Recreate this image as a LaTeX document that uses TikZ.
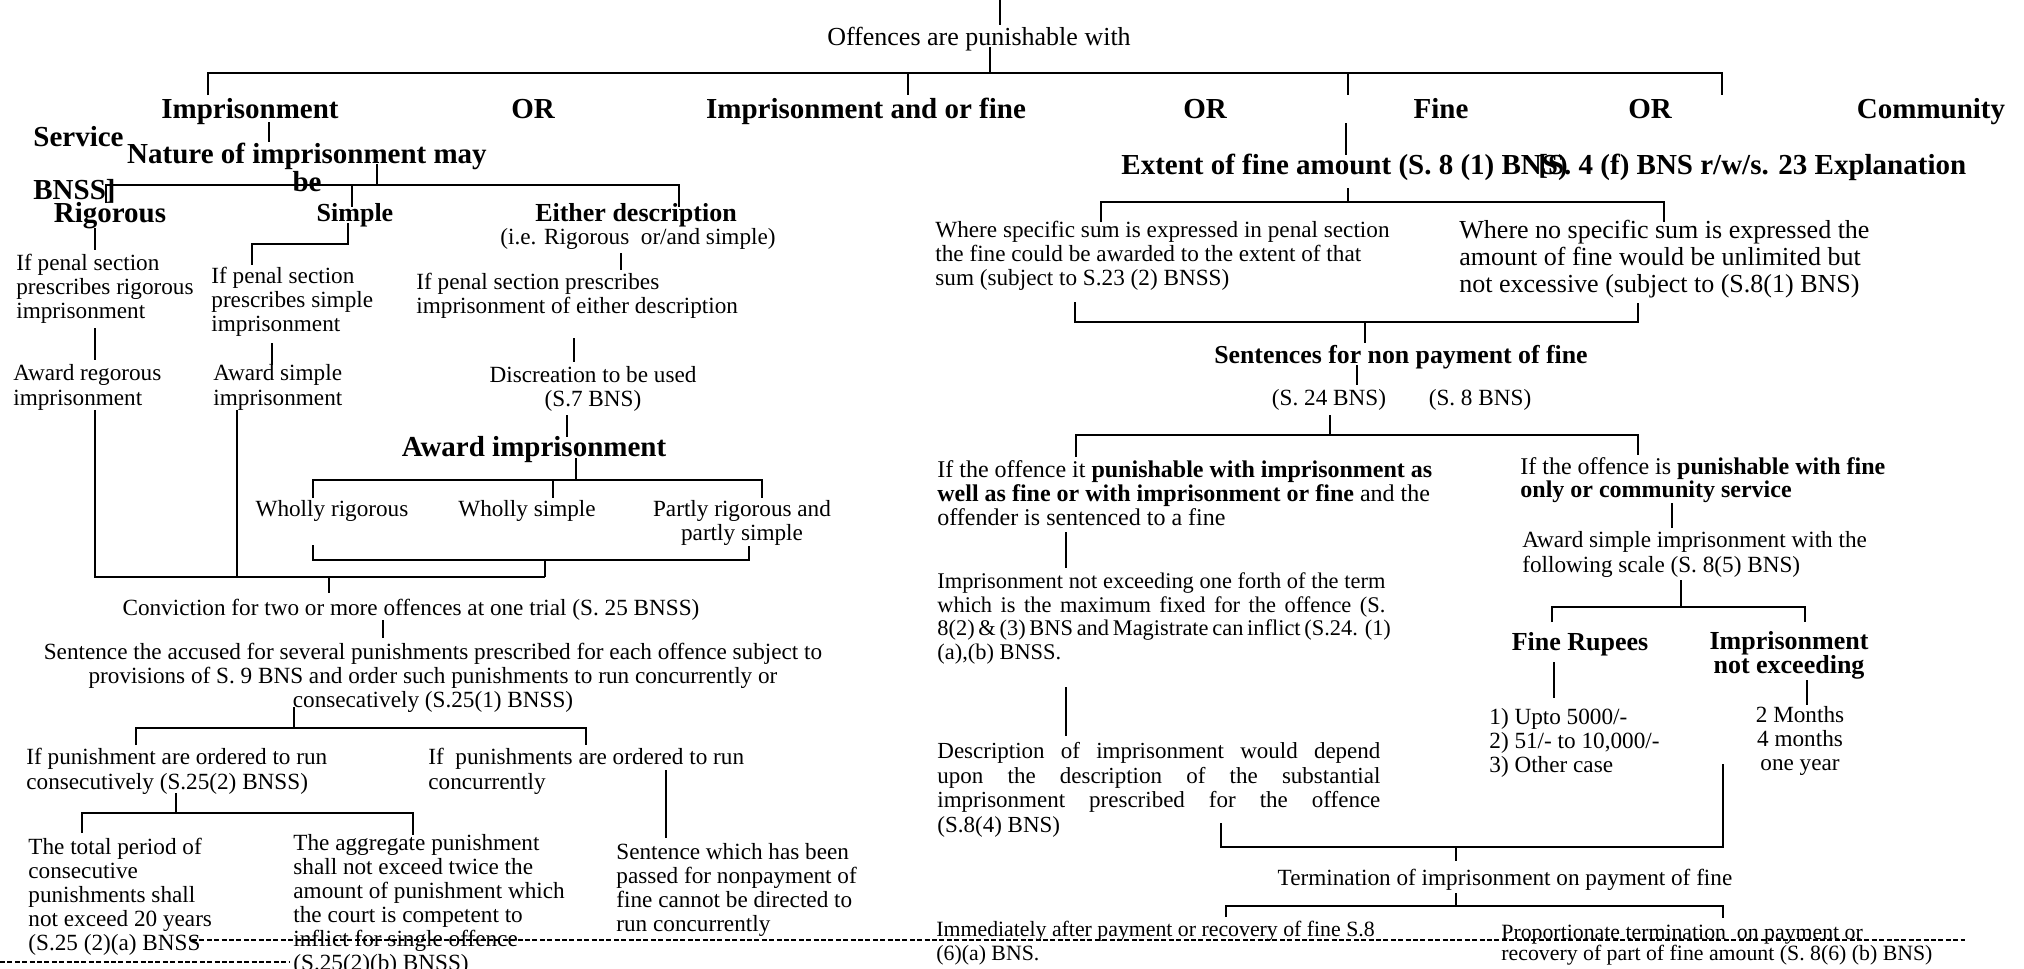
\documentclass[tikz,border=0pt]{standalone}
\usepackage{fontspec}
\setmainfont{Liberation Serif}

\begin{document}
\begin{tikzpicture}[
    x=0.5pt, y=-0.5pt,
    % Styles (multi-line nodes sit on the baseline of their last line)
    body/.style={font=\fontsize{11.6}{12}\selectfont, inner sep=0pt, align=left, anchor=base west},
    cbody/.style={font=\fontsize{11.6}{12}\selectfont, inner sep=0pt, align=center, anchor=base},
    head/.style={font=\fontsize{14.5}{14}\selectfont\bfseries, inner sep=0pt, align=center, anchor=base},
    subhead/.style={font=\fontsize{13}{12}\selectfont\bfseries, inner sep=0pt, align=center, anchor=base},
    link/.style={line width=1.3pt},
    pagecut/.style={line width=0.6pt, dash pattern=on 2.5pt off 1.2pt},
]
\useasboundingbox (0,0) rectangle (2024,969);

%--- Top ---%
\node[font=\fontsize{13}{14}\selectfont, inner sep=0pt, anchor=base] (off) at (979,45) {Offences are punishable with};

%--- First row ---%
\node[head] (imp)     at (250,118)  {Imprisonment};
\node[head] (or1)     at (533,118)  {OR};
\node[head] (impfine) at (866,118)  {Imprisonment and or fine};
\node[head] (or2)     at (1205,118) {OR};
\node[head] (fine)    at (1441,118) {Fine};
\node[head] (or3)     at (1650,118) {OR};
\node[head] (comm)    at (1931,118) {Community};
\node[head, anchor=base west] (serv) at (33,146) {Service};
\node[head, anchor=base west] (bnss) at (33,199) {BNSS]};

%--- Imprisonment branch ---%
\node[head] (nat) at (307,191) {Nature of imprisonment may\\be};
\node[head] (rig) at (110,222) {Rigorous};
\node[subhead] (simp) at (355,221) {Simple};
\node[subhead] (either) at (636,221) {Either description};
\node[cbody] (ie) at (638,244) {(i.e. Rigorous\ \ or/and simple)};

\node[body] (ifrig)    at (16,318)  {If penal section\\prescribes rigorous\\imprisonment};
\node[body] (ifsimp)   at (211,331) {If penal section\\prescribes simple\\imprisonment};
\node[body] (ifeither) at (416,313) {If penal section prescribes\\imprisonment of either description};

\node[body, font=\fontsize{11.6}{12.5}\selectfont] (awrig)  at (13,405)  {Award regorous\\imprisonment};
\node[body, font=\fontsize{11.6}{12.5}\selectfont] (awsimp) at (213,405) {Award simple\\imprisonment};
\node[cbody] (disc) at (593,406) {Discreation to be used\\(S.7 BNS)};

\node[head] (awimp) at (534,456) {Award imprisonment};
\node[cbody] (wrig)   at (332,516) {Wholly rigorous};
\node[cbody] (wsimp)  at (527,516) {Wholly simple};
\node[cbody] (partly) at (742,540) {Partly rigorous and\\partly simple};

\node[cbody] (conv) at (411,615) {Conviction for two or more offences at one trial (S. 25 BNSS)};
\node[cbody] (sent) at (433,707) {Sentence the accused for several punishments prescribed for each offence subject to\\provisions of S. 9 BNS and order such punishments to run concurrently or\\consecatively (S.25(1) BNSS)};

\node[body, font=\fontsize{11.6}{12.5}\selectfont] (ifcons) at (26,789)  {If punishment are ordered to run\\consecutively (S.25(2) BNSS)};
\node[body, font=\fontsize{11.6}{12.5}\selectfont] (ifconc) at (428,789) {If\ \ punishments are ordered to run\\concurrently};

\node[body] (total)    at (28,950)  {The total period of\\consecutive\\punishments shall\\not exceed 20 years\\(S.25 (2)(a) BNSS};
\node[body] (aggr)     at (293,970) {The aggregate punishment\\shall not exceed twice the\\amount of punishment which\\the court is competent to\\inflict for single offence\\(S.25(2)(b) BNSS)};
\node[body] (sentconc) at (616,931) {Sentence which has been\\passed for nonpayment of\\fine cannot be directed to\\run concurrently};

%--- Fine branch ---%
\node[head, anchor=base west] (extent) at (1121,174) {Extent of fine amount (S. 8 (1) BNS)};
\node[head, anchor=base west] (expl)   at (1538,174) {[S. 4 (f) BNS r/w/s. 23 Explanation};

\node[body] (wsum) at (935,285) {Where specific sum is expressed in penal section\\the fine could be awarded to the extent of that\\sum (subject to S.23 (2) BNSS)};
\node[body, font=\fontsize{13}{13.5}\selectfont] (wnosum) at (1459,292) {Where no specific sum is expressed the\\amount of fine would be unlimited but\\not excessive (subject to (S.8(1) BNS)};

\node[font=\fontsize{12.9}{12}\selectfont\bfseries, inner sep=0pt, anchor=base] (snp) at (1401,363) {Sentences for non payment of fine};
\node[cbody] (s24) at (1329,405) {(S. 24 BNS)};
\node[cbody] (s8)  at (1480,405) {(S. 8 BNS)};

\node[body, font=\fontsize{12}{12}\selectfont] (ifimp) at (937,525) {If the offence it \textbf{punishable with imprisonment as}\\\textbf{well as fine or with imprisonment or fine} and the\\offender is sentenced to a fine};
\node[body, font=\fontsize{12}{11.5}\selectfont] (iffine) at (1520,497) {If the offence is \textbf{punishable with fine}\\\textbf{only or community service}};
\node[body, font=\fontsize{11.6}{12.5}\selectfont] (awsc) at (1522,572) {Award simple imprisonment with the\\following scale (S. 8(5) BNS)};

\node[body, font=\fontsize{11.2}{11.75}\selectfont] (notex) at (937,659) {\makebox[224pt][s]{Imprisonment not exceeding one forth of the term}\\\makebox[224pt][s]{which is the maximum fixed for the offence (S.}\\\makebox[224pt][s]{8(2) \& (3) BNS and Magistrate can inflict (S.24. (1)}\\(a),(b) BNSS.};

\node[subhead] (fr)     at (1580,650) {Fine Rupees};
\node[subhead] (impnot) at (1789,673) {Imprisonment\\not exceeding};
\node[body]  (scale)  at (1489,772) {1) Upto 5000/-\\2) 51/- to 10,000/-\\3) Other case};
\node[cbody] (months) at (1800,770) {2 Months\\4 months\\one year};

\node[body, font=\fontsize{11.5}{12.25}\selectfont] (desc) at (937,832) {\makebox[221.5pt][s]{Description of imprisonment would depend}\\\makebox[221.5pt][s]{upon the description of the substantial}\\\makebox[221.5pt][s]{imprisonment prescribed for the offence}\\(S.8(4) BNS)};

\node[cbody] (term) at (1505,885) {Termination of imprisonment on payment of fine};
\node[body, font=\fontsize{10.9}{12}\selectfont]   (immed) at (936,960)  {Immediately after payment or recovery of fine S.8\\(6)(a) BNS.};
\node[body, font=\fontsize{10.9}{10.5}\selectfont] (prop)  at (1501,960) {Proportionate termination\ \ on payment or\\recovery of part of fine amount (S. 8(6) (b) BNS)};

%--- Connector points ---%
\coordinate (tA) at (1000,0);   \coordinate (tB) at (1000,25);
\coordinate (tC) at (990,47);   \coordinate (tD) at (990,73);
\coordinate (mL) at (208,95);   \coordinate (mR) at (1722,73);  \coordinate (mRb) at (1722,95);
\coordinate (m2) at (908,73);   \coordinate (m2b) at (908,95);
\coordinate (m3) at (1348,73);  \coordinate (m3b) at (1348,95);

\coordinate (i1) at (269,122);  \coordinate (i2) at (269,142);
\coordinate (n1) at (377,164);  \coordinate (n2) at (377,185);
\coordinate (nL) at (106,203);  \coordinate (nR) at (679,185);  \coordinate (nRb) at (679,207);
\coordinate (nM) at (352,185);  \coordinate (nMb) at (352,207);
\coordinate (r1) at (95,228);   \coordinate (r2) at (95,250);
\coordinate (s1) at (348,223);  \coordinate (s2) at (252,244);  \coordinate (s3) at (252,265);
\coordinate (e1) at (621,253);  \coordinate (e2) at (621,270);
\coordinate (r3) at (95,328);   \coordinate (r4) at (95,360);
\coordinate (s4) at (272,343);  \coordinate (s5) at (272,365);
\coordinate (e3) at (574,338);  \coordinate (e4) at (574,362);
\coordinate (d1) at (567,415);  \coordinate (d2) at (567,437);
\coordinate (a1) at (576,458);  \coordinate (a2) at (576,480);
\coordinate (aL) at (313,498);  \coordinate (aR) at (762,480);  \coordinate (aRb) at (762,498);
\coordinate (aM) at (553,480);  \coordinate (aMb) at (553,498);
\coordinate (wL) at (313,545);  \coordinate (wR) at (749,560);  \coordinate (wRb) at (749,546);
\coordinate (w1) at (545,560);  \coordinate (w2) at (545,577);
\coordinate (g1) at (95,410);   \coordinate (g2) at (237,410);  \coordinate (g3) at (237,577);
\coordinate (c1) at (329,577);  \coordinate (c2) at (329,593);
\coordinate (c3) at (383,620);  \coordinate (c4) at (383,638);
\coordinate (k1) at (294,707);  \coordinate (k2) at (294,728);
\coordinate (kL) at (136,745);  \coordinate (kR) at (586,728);  \coordinate (kRb) at (586,745);
\coordinate (q1) at (176,793);  \coordinate (q2) at (176,813);
\coordinate (qL) at (82,833);   \coordinate (qR) at (413,813);  \coordinate (qRb) at (413,835);
\coordinate (p1) at (666,770);  \coordinate (p2) at (666,838);

\coordinate (f1) at (1346,123); \coordinate (f2) at (1346,155);
\coordinate (x1) at (1348,188); \coordinate (x2) at (1348,202);
\coordinate (xL) at (1101,222); \coordinate (xR) at (1664,202); \coordinate (xRb) at (1664,222);
\coordinate (yL) at (1075,302); \coordinate (yR) at (1638,322); \coordinate (yRb) at (1638,303);
\coordinate (y1) at (1365,322); \coordinate (y2) at (1365,343);
\coordinate (z1) at (1357,365); \coordinate (z2) at (1357,385);
\coordinate (z3) at (1330,415); \coordinate (z4) at (1330,435);
\coordinate (zL) at (1076,457); \coordinate (zR) at (1638,435); \coordinate (zRb) at (1638,455);
\coordinate (v1) at (1066,532); \coordinate (v2) at (1066,568);
\coordinate (v3) at (1672,503); \coordinate (v4) at (1672,528);
\coordinate (v5) at (1681,580); \coordinate (v6) at (1681,607);
\coordinate (uL) at (1552,622); \coordinate (uR) at (1805,607); \coordinate (uRb) at (1805,622);
\coordinate (v7) at (1554,662); \coordinate (v8) at (1554,698);
\coordinate (v9) at (1807,680); \coordinate (v10) at (1807,705);
\coordinate (v11) at (1066,687); \coordinate (v12) at (1066,736);
\coordinate (hL) at (1221,823); \coordinate (hR) at (1723,847); \coordinate (hRt) at (1723,764);
\coordinate (h1) at (1456,847); \coordinate (h2) at (1456,861);
\coordinate (h3) at (1456,893); \coordinate (h4) at (1456,906);
\coordinate (jL) at (1226,917); \coordinate (jR) at (1723,906); \coordinate (jRb) at (1723,918);

\coordinate (dA) at (192,940);  \coordinate (dB) at (1965,940);
\coordinate (dC) at (0,962);    \coordinate (dD) at (290,962);

%--- Connectors ---%
\draw[link] (tA) -- (tB);
\draw[link] (tC) -- (tD);
\draw[link] (mL) |- (mR) -- (mRb);
\draw[link] (m2) -- (m2b);
\draw[link] (m3) -- (m3b);

% Imprisonment side
\draw[link] (i1) -- (i2);
\draw[link] (n1) -- (n2);
\draw[link] (nL) |- (nR) -- (nRb);
\draw[link] (nM) -- (nMb);
\draw[link] (r1) -- (r2);
\draw[link] (s1) |- (s2) -- (s3);
\draw[link] (e1) -- (e2);
\draw[link] (r3) -- (r4);
\draw[link] (s4) -- (s5);
\draw[link] (e3) -- (e4);
\draw[link] (d1) -- (d2);
\draw[link] (a1) -- (a2);
\draw[link] (aL) |- (aR) -- (aRb);
\draw[link] (aM) -- (aMb);
\draw[link] (wL) |- (wR) -- (wRb);
\draw[link] (w1) -- (w2);
\draw[link] (g1) |- (w2);
\draw[link] (g2) -- (g3);
\draw[link] (c1) -- (c2);
\draw[link] (c3) -- (c4);
\draw[link] (k1) -- (k2);
\draw[link] (kL) |- (kR) -- (kRb);
\draw[link] (q1) -- (q2);
\draw[link] (qL) |- (qR) -- (qRb);
\draw[link] (p1) -- (p2);

% Fine side
\draw[link] (f1) -- (f2);
\draw[link] (x1) -- (x2);
\draw[link] (xL) |- (xR) -- (xRb);
\draw[link] (yL) |- (yR) -- (yRb);
\draw[link] (y1) -- (y2);
\draw[link] (z1) -- (z2);
\draw[link] (z3) -- (z4);
\draw[link] (zL) |- (zR) -- (zRb);
\draw[link] (v1) -- (v2);
\draw[link] (v3) -- (v4);
\draw[link] (v5) -- (v6);
\draw[link] (uL) |- (uR) -- (uRb);
\draw[link] (v7) -- (v8);
\draw[link] (v9) -- (v10);
\draw[link] (v11) -- (v12);
\draw[link] (hL) |- (hR) -- (hRt);
\draw[link] (h1) -- (h2);
\draw[link] (h3) -- (h4);
\draw[link] (jL) |- (jR) -- (jRb);

% Page break marks
\draw[pagecut] (dA) -- (dB);
\draw[pagecut] (dC) -- (dD);

\end{tikzpicture}
\end{document}
